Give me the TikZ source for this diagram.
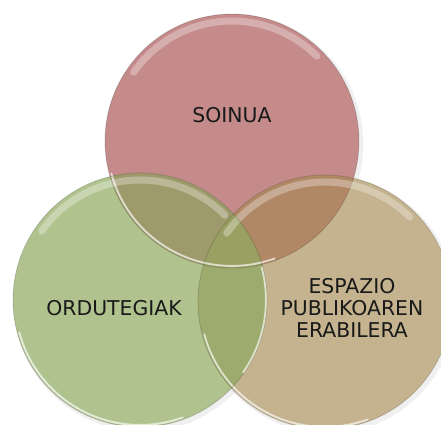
\documentclass[tikz,border=0pt]{standalone}
\usepackage{fontspec}
\setmainfont{DejaVu Sans}
\definecolor{soinuacol}{HTML}{C48B8A}
\definecolor{ordcol}{HTML}{B0C38F}
\definecolor{espcol}{HTML}{C4B38E}
\definecolor{sogreen}{HTML}{9E9A6C}
\definecolor{sotan}{HTML}{B08866}
\definecolor{greentan}{HTML}{9EAB6E}
\definecolor{allthree}{HTML}{99A062}
\tikzset{
  labeltext/.style={font=\fontsize{11.6}{12.7}\selectfont, align=center, text=black!90, inner sep=0pt},
  gloss/.style={white, opacity=0.3, line width=4pt, line cap=round},
  rim/.style={white, opacity=0.65, line width=1.1pt, line cap=round},
  edge/.style={black, opacity=0.15, line width=0.5pt},
}
\begin{document}
\begin{tikzpicture}[x=0.02cm, y=-0.02cm]
  \useasboundingbox (0,0) rectangle (441,425);
  \clip (0,0) rectangle (441,425);
  \def\rad{2.54cm}
  % Centres des cercles
  \coordinate (cs) at (232,141);
  \coordinate (co) at (140,300);
  \coordinate (ce) at (325,302);
  % Ombres
  \foreach \c in {cs,ce,co}
    \fill[black, opacity=0.06] ([shift={(1.5pt,-1.5pt)}]\c) circle[radius=\rad+1pt];
  % Cercles pleins
  \fill[soinuacol] (cs) circle[radius=\rad];
  \fill[espcol] (ce) circle[radius=\rad];
  \fill[ordcol] (co) circle[radius=\rad];
  % Intersections
  \begin{scope}
    \clip (cs) circle[radius=\rad];
    \fill[sotan] (ce) circle[radius=\rad];
  \end{scope}
  \begin{scope}
    \clip (cs) circle[radius=\rad];
    \fill[sogreen] (co) circle[radius=\rad];
  \end{scope}
  \begin{scope}
    \clip (co) circle[radius=\rad];
    \fill[greentan] (ce) circle[radius=\rad];
  \end{scope}
  \begin{scope}
    \clip (cs) circle[radius=\rad];
    \clip (co) circle[radius=\rad];
    \fill[allthree] (ce) circle[radius=\rad];
  \end{scope}
  % Reflets et bords
  \foreach \c in {cs,ce,co} {
    \draw[edge] (\c) circle[radius=\rad];
    \draw[gloss] ([shift={(145:2.4cm)}]\c) arc[start angle=145, end angle=45, radius=2.4cm];
    \draw[rim] ([shift={(195:2.5cm)}]\c) arc[start angle=195, end angle=290, radius=2.5cm];
  }
  \draw[rim] ([shift={(-35:2.52cm)}]co) arc[start angle=-35, end angle=15, radius=2.52cm];
  % Textes
  \node[labeltext] (soinua) at (232,115) {SOINUA};
  \node[labeltext] (ordutegiak) at (114,308) {ORDUTEGIAK};
  \node[labeltext] (espazio) at (352,308) {ESPAZIO\\PUBLIKOAREN\\ERABILERA};
\end{tikzpicture}
\end{document}
